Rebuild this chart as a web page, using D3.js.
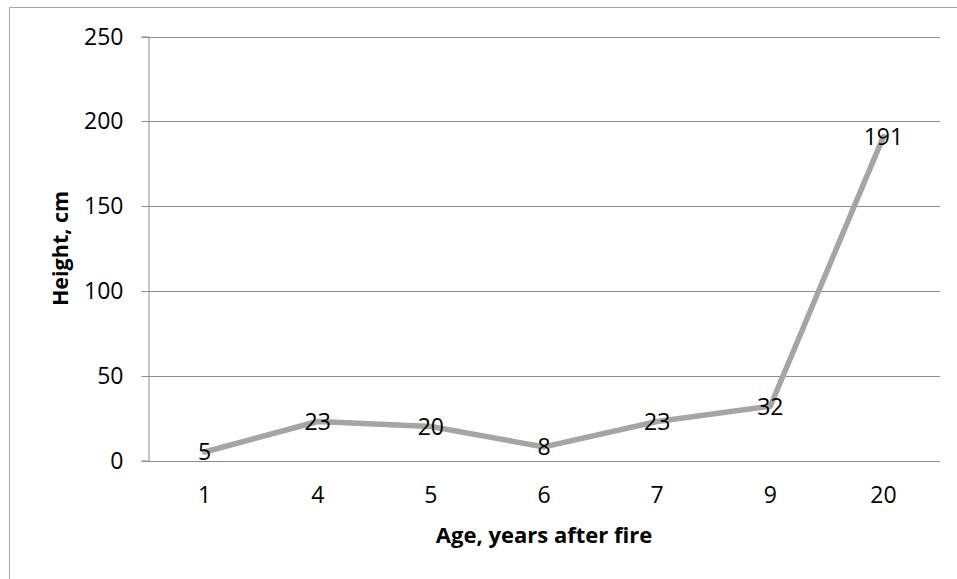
<!DOCTYPE html>
<html>
<head>
<meta charset="utf-8">
<script src="https://cdn.jsdelivr.net/npm/d3@7"></script>
<style>
  html, body { margin: 0; padding: 0; background: #fff; }
  svg { display: block; }
  text { font-family: "Open Sans", sans-serif; }
</style>
</head>
<body>
<svg id="chart" width="957" height="579"></svg>
<script>
const categories = ["1", "4", "5", "6", "7", "9", "20"];
const heights = [5, 23, 20, 8, 23, 32, 191];
const yTicks = [0, 50, 100, 150, 200, 250];
const xTitle = "Age, years after fire";
const yTitle = "Height, cm";

(function () {
const svg = d3.select("#chart");
const W = 957, H = 579;
const pLeft = 148, pRight = 940, pTop = 36.5, pBottom = 460.5;
const fs = 23;

// outer chart border (top and left visible)
svg.append("path")
  .attr("d", `M9.5,${H} L9.5,7.5 L${W},7.5`)
  .attr("fill", "none").attr("stroke", "#a6a6a6").attr("stroke-width", 1);

const x = d3.scaleBand().domain(categories).range([pLeft, pRight]).padding(0);
const y = d3.scaleLinear().domain([0, 250]).range([pBottom, pTop]);

// gridlines
svg.append("g").selectAll("line").data(yTicks).join("line")
  .attr("x1", pLeft).attr("x2", pRight)
  .attr("y1", d => Math.round(y(d)) + 0.5).attr("y2", d => Math.round(y(d)) + 0.5)
  .attr("stroke", "#8c8c8c").attr("stroke-width", 1);

// y axis
const yAxis = svg.append("g").attr("transform", `translate(${pLeft + 0.5},0)`)
  .call(d3.axisLeft(y).tickValues(yTicks).tickSize(7).tickPadding(18).tickFormat(d3.format("d")));
yAxis.select(".domain").attr("stroke", "#8c8c8c");
yAxis.selectAll(".tick line").attr("stroke", "#8c8c8c");
yAxis.selectAll(".tick").attr("transform", d => `translate(0,${Math.round(y(d)) + 0.5})`);
yAxis.selectAll("text").attr("font-size", fs).attr("font-family", "Open Sans, sans-serif").attr("fill", "#000");

// x axis
const xAxis = svg.append("g").attr("transform", `translate(0,${pBottom})`)
  .call(d3.axisBottom(x).tickSize(0).tickPadding(26));
xAxis.select(".domain").remove();
xAxis.selectAll("text").attr("font-size", fs).attr("font-family", "Open Sans, sans-serif").attr("fill", "#000");

// line
const line = d3.line()
  .x((d, i) => x(categories[i]) + x.bandwidth() / 2)
  .y(d => y(d));
svg.append("path").datum(heights)
  .attr("d", line)
  .attr("fill", "none").attr("stroke", "#a5a5a5").attr("stroke-width", 5.5)
  .attr("stroke-linejoin", "round").attr("stroke-linecap", "round");

// data labels
svg.append("g").selectAll("text").data(heights).join("text")
  .attr("x", (d, i) => x(categories[i]) + x.bandwidth() / 2)
  .attr("y", d => y(d))
  .attr("dy", "0.36em")
  .attr("text-anchor", "middle")
  .attr("font-size", fs).attr("fill", "#000")
  .text(d => d);

// axis titles
svg.append("text")
  .attr("x", (pLeft + pRight) / 2).attr("y", 543)
  .attr("text-anchor", "middle").attr("font-size", 22).attr("font-weight", "bold")
  .text(xTitle);
svg.append("text")
  .attr("transform", `translate(68,${(pTop + pBottom) / 2}) rotate(-90)`)
  .attr("text-anchor", "middle").attr("font-size", 21.5).attr("font-weight", "bold")
  .text(yTitle);
})();
</script>
</body>
</html>
